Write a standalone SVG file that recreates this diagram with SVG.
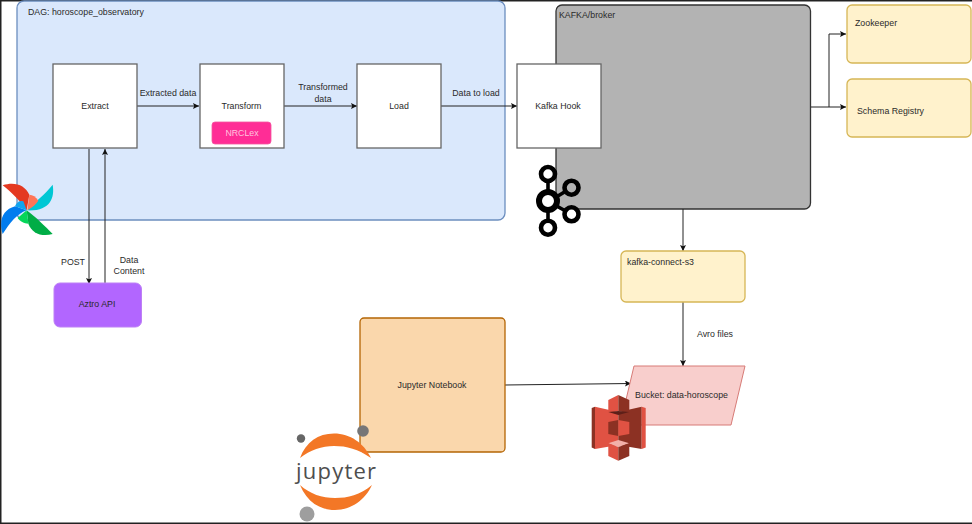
<svg xmlns="http://www.w3.org/2000/svg" width="972" height="524" viewBox="0 0 972 524">
<style>
text{font-family:"Liberation Sans",Arial,sans-serif;font-size:8.800px;fill:#2a2a2a;text-anchor:middle}
.l{text-anchor:start}
.box{fill:#fff;stroke:#666;stroke-width:1.3}
.y{fill:#fff2cc;stroke:#d6b656;stroke-width:1.3}
.c{fill:none;stroke:#222;stroke-width:1}
.k{fill:none;stroke:#000;stroke-width:3.600}
</style>
<defs><marker id="a" markerWidth="7" markerHeight="7" refX="6" refY="3" orient="auto" markerUnits="userSpaceOnUse"><path d="M0 0L6 3L0 6L1.200 3Z" fill="#111"/></marker></defs>
<rect width="972" height="524" fill="#fff"/>
<rect width="972" height="1.500" fill="#222"/>
<rect width="1.500" height="524" fill="#222"/>
<rect y="522.500" width="972" height="1.500" fill="#222"/>
<g id="dag"><rect x="17" y="1" width="488" height="219" rx="7" fill="#dae8fc" stroke="#6c8ebf" stroke-width="1.300"/><text class="l" x="28" y="15">DAG: horoscope_observatory</text></g>
<g id="broker"><rect x="556" y="5" width="254.500" height="204" rx="6" fill="#b3b3b3" stroke="#333" stroke-width="1.300"/><text class="l" x="559" y="18">KAFKA/broker</text></g>
<g id="connectors">
<path class="c" marker-end="url(#a)" d="M137 106H199"/>
<path class="c" marker-end="url(#a)" d="M284 106H357"/>
<path class="c" marker-end="url(#a)" d="M441 106H517"/>
<path class="c" marker-end="url(#a)" d="M89 149V284"/>
<path class="c" marker-end="url(#a)" d="M105 283V149"/>
<path class="c" marker-end="url(#a)" d="M811 107H846"/>
<path class="c" marker-end="url(#a)" d="M829 107V34H846"/>
<path class="c" marker-end="url(#a)" d="M683 209V251"/>
<path class="c" marker-end="url(#a)" d="M683 302V366"/>
<path class="c" marker-end="url(#a)" d="M505 385L631 383.500"/>
</g>
<g id="labels">
<text x="168" y="96">Extracted data</text>
<text x="323" y="90">Transformed</text><text x="323" y="102">data</text>
<text x="476" y="96">Data to load</text>
<text x="73" y="265">POST</text>
<text x="129" y="263">Data</text><text x="129" y="274">Content</text>
<text x="715" y="337">Avro files</text>
</g>
<g id="extract"><rect class="box" x="53" y="64" width="84" height="84"/><text x="95" y="109">Extract</text></g>
<g id="transform"><rect class="box" x="200" y="64" width="84" height="84"/><text x="241.500" y="109">Transform</text></g>
<g id="nrclex"><rect x="212" y="122" width="59" height="22" rx="3" fill="#ff2d96" stroke="#f2559f" stroke-width=".8"/><text x="242" y="135.500" style="fill:#ffc4df">NRCLex</text></g>
<g id="load"><rect class="box" x="357" y="64" width="84" height="84"/><text x="399" y="109">Load</text></g>
<g id="kafka-hook"><rect class="box" x="517" y="64" width="84" height="84"/><text x="558" y="109">Kafka Hook</text></g>
<g id="aztro"><rect x="54" y="283" width="87.500" height="44" rx="6" fill="#b266ff" stroke="#bd80f5" stroke-width="1"/><text x="97" y="307">Aztro API</text></g>
<g id="zookeeper"><rect class="y" x="847" y="5" width="124" height="58" rx="5"/><text class="l" x="855" y="26">Zookeeper</text></g>
<g id="schema-registry"><rect class="y" x="847" y="79" width="124" height="58" rx="5"/><text class="l" x="857" y="114">Schema Registry</text></g>
<g id="kafka-connect"><rect class="y" x="621" y="251" width="124" height="51" rx="5"/><text class="l" x="627" y="265">kafka-connect-s3</text></g>
<g id="jupyter-notebook"><rect x="360" y="318" width="145" height="134" rx="4" fill="#fad7ac" stroke="#b46504" stroke-width="1.300"/><text x="432" y="388">Jupyter Notebook</text></g>
<g id="bucket"><path d="M634 366H745L731 425H620Z" fill="#f8cecc" stroke="#d77b77" stroke-width="1"/><text x="681.500" y="398">Bucket: data-horoscope</text></g>
<g id="airflow-logo" transform="translate(0 178) scale(.3333)">
<path d="M158 20C165 60 150 100 82 97C105 70 135 50 158 20Z" fill="#00c7d4"/>
<path d="M8 22C45 10 75 22 88 50L80 97C65 75 35 42 8 22Z" fill="#e43921"/>
<path d="M88 50C98 50 108 57 115 68C108 78 98 88 82 97Z" fill="#ff7557"/>
<path d="M158 168C125 178 95 165 85 137L80 97C105 115 135 145 158 168Z" fill="#00ad46"/>
<path d="M80 97L85 137C72 137 60 130 53 120Z" fill="#04d659"/>
<path d="M8 168C-5 125 10 95 45 85L80 97C50 108 30 135 8 168Z" fill="#017cee"/>
<path d="M45 85C50 72 60 66 70 70L80 97Z" fill="#11a4ee"/>
</g>
<g id="kafka-logo">
<path class="k" d="M548 178V222M553 199L571 188M553 204L571 214"/>
<g fill="#fff" stroke="#000" stroke-width="4.600"><circle cx="548" cy="174" r="7"/><circle cx="571.500" cy="187.700" r="7" fill="#b3b3b3"/><circle cx="571.500" cy="214.300" r="7"/><circle cx="548" cy="227.700" r="7"/><circle cx="548" cy="201" r="9" stroke-width="6"/></g>
</g>
<g id="jupyter-logo">
<circle cx="301" cy="438.500" r="4.200" fill="#666"/><circle cx="363" cy="431" r="5.800" fill="#767677"/><circle cx="307" cy="514" r="7.500" fill="#9e9e9e"/>
<path d="M300 458C306 442 318 433.500 334 433.500C350 433.500 364 443 371 458C358 449 347 446 334 446C322 446 310 450 300 458Z" fill="#f37726"/>
<path d="M300 485C307 502 320 510 335 510C351 510 365 500 372 485C360 495 348 498 335 498C322 498 310 494 300 485Z" fill="#f37726"/>
<text x="336" y="479" textLength="80" lengthAdjust="spacing" style="font-family:'Open Sans','Noto Sans',sans-serif;font-size:22px;fill:#4e4e4e">jupyter</text>
</g>
<g id="s3-logo">
<path d="M591.700 408L595 406.700V449L591.700 447.500Z" fill="#8c3123"/>
<path d="M595 406.700L618.300 412V445L595 449Z" fill="#e05243"/>
<path d="M641.700 406.700L618.300 412V445L641.700 449Z" fill="#8c3123"/>
<path d="M641.700 406.700L645.700 408V447.500L641.700 449Z" fill="#e05243"/>
<path d="M618.300 395L608.300 400V412L618.300 411Z" fill="#e05243"/>
<path d="M618.300 395L629.300 400V412L618.300 411Z" fill="#8c3123"/>
<path d="M608.300 412L618.300 411L629.300 412L618.300 415Z" fill="#5e1f18"/>
<path d="M608.300 422L618.300 420V436L608.300 434Z" fill="#8c3123"/>
<path d="M618.300 420L629.300 422V434L618.300 436Z" fill="#e05243"/>
<path d="M608.300 443.300L618.300 440L629.300 443.300L618.300 447Z" fill="#f2b0a9"/>
<path d="M608.300 443.300L618.300 447V460.700L608.300 456Z" fill="#e05243"/>
<path d="M629.300 443.300L618.300 447V460.700L629.300 456Z" fill="#8c3123"/>
</g>
</svg>
